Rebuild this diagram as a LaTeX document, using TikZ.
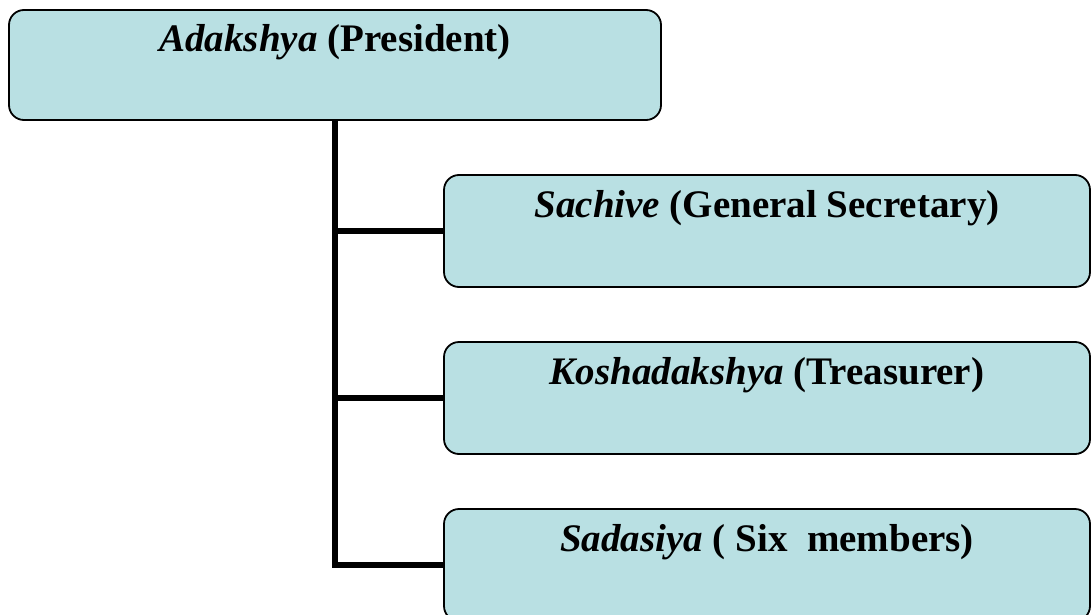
\documentclass[tikz,border=0pt]{standalone}
\usepackage{fontspec}
\setmainfont{Liberation Serif}
\usepackage{tikz}
\usepackage{xcolor}
\definecolor{boxBlue}{RGB}{185,224,227}
\tikzstyle{rankBox}=[draw, line width=1.8pt, fill=boxBlue, rounded corners=15pt, inner sep=0pt, text height=42pt, font=\fontsize{39}{46}\selectfont]
\tikzstyle{topBox}=[rankBox, minimum width=652pt, text depth=68pt]
\tikzstyle{subBox}=[rankBox, minimum width=646pt, text depth=70pt]
\tikzstyle{myLink}=[line width=5.5pt]

\begin{document}
\begin{tikzpicture}[x=1pt, y=-1pt]
   \clip (0,0) rectangle (1091,615);
   \fill[white] (0,0) rectangle (1091,615);

   \node[topBox] (adakshya) at (335,65) {\textbf{\textit{Adakshya}} \textbf{(President)}};
   \node[subBox] (sachive) at (767,231) {\textbf{\textit{Sachive}} \textbf{(General Secretary)}};
   \node[subBox] (kosh) at (767,398) {\textbf{\textit{Koshadakshya}} \textbf{(Treasurer)}};
   \node[subBox] (sadasiya) at (767,565) {\textbf{\textit{Sadasiya}} \textbf{( Six\ \ members)}};

   % Draw line from the president to each of the blocks
   \draw[myLink] (adakshya.south) |- (sadasiya.west);
   \draw[myLink] (adakshya.south) |- (sachive.west);
   \draw[myLink] (adakshya.south) |- (kosh.west);

\end{tikzpicture}
\end{document}
